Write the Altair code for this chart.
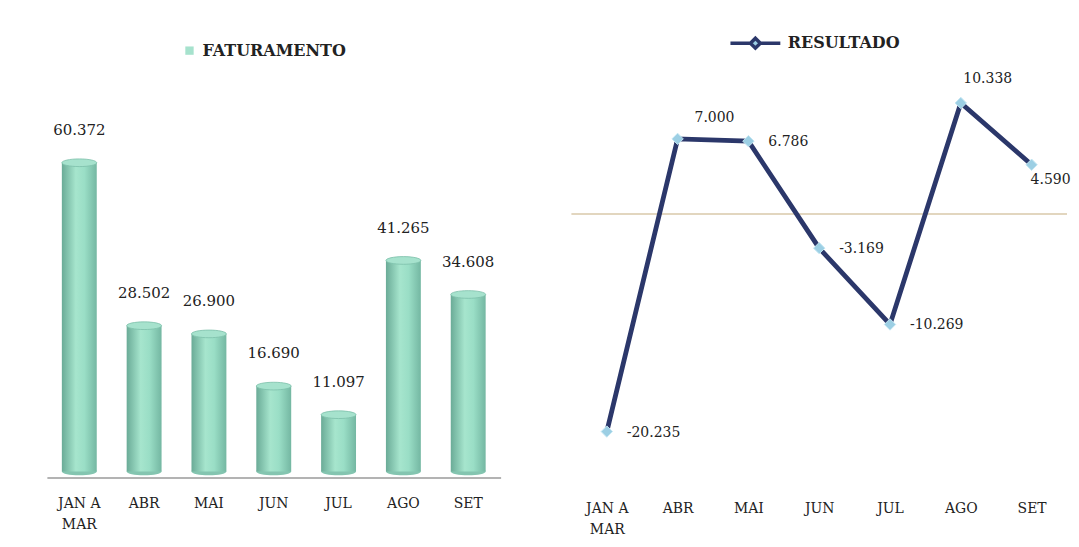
import altair as alt
import pandas as pd

categories = ["JAN A MAR", "ABR", "MAI", "JUN", "JUL", "AGO", "SET"]
faturamento = [60372, 28502, 26900, 16690, 11097, 41265, 34608]
resultado = [-20235, 7000, 6786, -3169, -10269, 10338, 4590]


def fmt(v):
    return f"{v:,}".replace(",", ".")


df_f = pd.DataFrame({"mes": categories, "valor": faturamento})
df_f["serie"] = "FATURAMENTO"
df_f["rotulo"] = [fmt(v) for v in faturamento]
df_f["zero"] = 0

df_r = pd.DataFrame({"mes": categories, "valor": resultado})
df_r["serie"] = "RESULTADO"
df_r["rotulo"] = [fmt(v) for v in resultado]
df_zero = pd.DataFrame({"valor": [0]})

FONT = "DejaVu Serif"
TXT = "#222222"
label_expr = "datum.label == 'JAN A MAR' ? ['JAN A', 'MAR'] : datum.label"
ELLIPSE = ("M -1 0 C -1 -0.1215 -0.5523 -0.22 0 -0.22 C 0.5523 -0.22 1 -0.1215 1 0 "
           "C 1 0.1215 0.5523 0.22 0 0.22 C -0.5523 0.22 -1 0.1215 -1 0 Z")
BAR_W = 35
H = 388
YL_DOM = [-1170, 74500]
YR_DOM = [-24500, 11500]

grad = alt.Gradient(
    gradient="linear",
    x1=0, x2=1, y1=0, y2=0,
    stops=[
        alt.GradientStop(color="#6aab97", offset=0),
        alt.GradientStop(color="#a6e5cd", offset=0.4),
        alt.GradientStop(color="#9adec6", offset=0.65),
        alt.GradientStop(color="#74b7a2", offset=1),
    ],
)

# ---------- left: FATURAMENTO ----------
xl = alt.X(
    "mes:N", sort=categories, title=None,
    scale=alt.Scale(paddingInner=0, paddingOuter=0),
    axis=alt.Axis(
        labelExpr=label_expr, labelAngle=0, labelFont=FONT, labelFontSize=14,
        labelColor=TXT, ticks=False, domainColor="#9a9a9a", domainWidth=1.5,
        labelPadding=26, labelLineHeight=21, labelBaseline="middle",
    ),
)
yl = alt.Y("valor:Q", scale=alt.Scale(domain=YL_DOM, nice=False, zero=False), axis=None)

base_f = alt.Chart(df_f)
bottom = base_f.mark_point(shape=ELLIPSE, size=BAR_W * BAR_W, filled=True, fill="#84c5b0", opacity=1).encode(
    x=xl, y=alt.Y("zero:Q", scale=alt.Scale(domain=YL_DOM, nice=False, zero=False), axis=None)
)
bars = base_f.mark_bar(size=BAR_W, color=grad).encode(
    x=xl, y=yl, y2=alt.Y2("zero:Q")
)
tops = base_f.mark_point(shape=ELLIPSE, size=BAR_W * BAR_W, filled=True, opacity=1,
                         stroke="#7cbfa9", strokeWidth=0.8).encode(
    x=xl, y=yl,
    fill=alt.Fill("serie:N", scale=alt.Scale(domain=["FATURAMENTO"], range=["#a6e2cd"]),
                  legend=alt.Legend(
                      title=None, orient="none", legendX=135, legendY=-48, padding=0,
                      symbolType="square", symbolSize=70, symbolStrokeWidth=0,
                      labelFont=FONT, labelFontSize=16, labelFontWeight="bold",
                      labelColor=TXT, labelOffset=5,
                  )),
)
txt_f = base_f.mark_text(font=FONT, fontSize=15, color=TXT, dy=-33).encode(x=xl, y=yl, text="rotulo:N")

left = alt.layer(bottom, bars, tops, txt_f).properties(width=455, height=H)

# ---------- right: RESULTADO ----------
xr = alt.X(
    "mes:N", sort=categories, title=None,
    scale=alt.Scale(padding=0.5),
    axis=alt.Axis(
        labelExpr=label_expr, labelAngle=0, labelFont=FONT, labelFontSize=14,
        labelColor=TXT, ticks=False, domain=False, grid=False,
        labelPadding=31, labelLineHeight=21, labelBaseline="middle",
    ),
)
yr = alt.Y("valor:Q", scale=alt.Scale(domain=YR_DOM, nice=False), axis=None)

base_r = alt.Chart(df_r)
zero_rule = alt.Chart(df_zero).mark_rule(color="#d8c8aa", strokeWidth=1.5).encode(y=yr)
NAVY = "#2b376a"
LEG_PATH = "M -3 0 L -0.6 0 M 0.6 0 L 3 0 M 0 -0.6 L 0.6 0 L 0 0.6 L -0.6 0 Z"
line = base_r.mark_line(strokeWidth=4.8).encode(
    x=xr, y=yr,
    stroke=alt.Stroke("serie:N", scale=alt.Scale(domain=["RESULTADO"], range=[NAVY]),
                      legend=alt.Legend(
                          title=None, orient="none", legendX=700, legendY=-58, padding=0,
                          symbolType=LEG_PATH, symbolSize=278, symbolStrokeWidth=3.5,
                          symbolFillColor="#9ccfe4",
                          labelFont=FONT, labelFontSize=16, labelFontWeight="bold",
                          labelColor=TXT, labelOffset=22,
                      )),
)
pts = base_r.mark_point(shape="diamond", size=130, filled=True, opacity=1, stroke="#c4e6f2",
                        strokeWidth=1, fill="#9ccfe4").encode(x=xr, y=yr)
right_set = ["JAN A MAR", "MAI", "JUN", "JUL"]
t_right = base_r.mark_text(font=FONT, fontSize=14, color=TXT, align="left", dx=20, dy=1).encode(
    x=xr, y=yr, text="rotulo:N"
).transform_filter(alt.FieldOneOfPredicate(field="mes", oneOf=right_set))
t_abr = base_r.mark_text(font=FONT, fontSize=14, color=TXT, align="center", dx=37, dy=-21).encode(
    x=xr, y=yr, text="rotulo:N"
).transform_filter(alt.datum.mes == "ABR")
t_ago = base_r.mark_text(font=FONT, fontSize=14, color=TXT, align="center", dx=27, dy=-24).encode(
    x=xr, y=yr, text="rotulo:N"
).transform_filter(alt.datum.mes == "AGO")
t_set = base_r.mark_text(font=FONT, fontSize=14, color=TXT, align="left", dx=-1, dy=15).encode(
    x=xr, y=yr, text="rotulo:N"
).transform_filter(alt.datum.mes == "SET")

right = alt.layer(zero_rule, line, pts, t_right, t_abr, t_ago, t_set).properties(width=497, height=H)

chart = (
    alt.hconcat(left, right, spacing=70)
    .properties(padding={"left": 39, "top": 24, "right": 0, "bottom": 0}, background="white")
    .configure_view(stroke=None)
)

chart.save("out.html", embed_options={"renderer": "svg", "actions": False})
